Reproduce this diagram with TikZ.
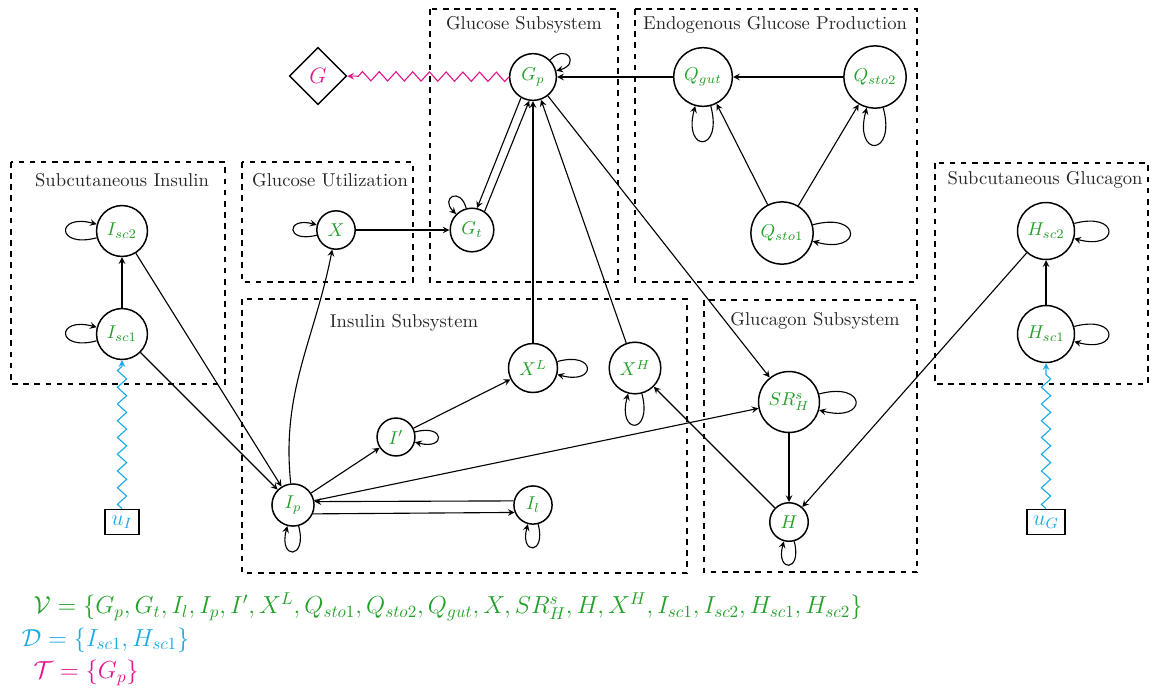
\documentclass[tikz,border=0pt]{standalone}
\usetikzlibrary{shapes.geometric,decorations.pathmorphing}
\definecolor{vargreen}{RGB}{34,160,40}
\definecolor{drvblue}{RGB}{25,170,230}
\definecolor{tgtpink}{RGB}{230,20,140}
\tikzset{
  var/.style={circle,draw,thick,text=vargreen},
  group/.style={draw,thick,dashed},
  title/.style={text=black!85},
  edge/.style={semithick,-stealth},
  every loop/.style={},
  zig/.style={semithick,-stealth,decorate,
    decoration={zigzag,segment length=9pt,amplitude=2.5pt,post length=3pt}},
  setline/.style={anchor=west,font=\Large},
}
\newcommand{\setshrink}[1]{\scalebox{0.92}{#1}}
\begin{document}
\begin{tikzpicture}[x=0.0189cm,y=-0.0189cm]
  \useasboundingbox (0,0) rectangle (1153,690);

  % Draw the dashed subsystem boxes
  \draw[group] (430,9) rectangle (618,282);
  \node[title] (tGlu) at (524,25) {Glucose Subsystem};
  \draw[group] (635,9) rectangle (917,282);
  \node[title] (tEgp) at (775,25) {Endogenous Glucose Production};
  \draw[group] (11,162) rectangle (225,384);
  \node[title] (tSci) at (122,180) {Subcutaneous Insulin};
  \draw[group] (242,162) rectangle (413,282);
  \node[title] (tUti) at (330,180) {Glucose Utilization};
  \draw[group] (242,299) rectangle (687,573);
  \node[title] (tIns) at (404,323) {Insulin Subsystem};
  \draw[group] (704,300) rectangle (917,572);
  \node[title] (tGgn) at (815,321) {Glucagon Subsystem};
  \draw[group] (935,163) rectangle (1148,384);
  \node[title] (tScg) at (1045,180) {Subcutaneous Glucagon};

  % Draw the state variables
  \node[var] (Gp) at (533,77) {$G_p$};
  \node[var] (Gt) at (472,230) {$G_t$};
  \node[var] (X) at (336,230) {$X$};
  \node[var] (Qgut) at (703,77) {$Q_{gut}$};
  \node[var] (Qsto2) at (875,77) {$Q_{sto2}$};
  \node[var] (Qsto1) at (782,233) {$Q_{sto1}$};
  \node[var] (Isc2) at (122,231) {$I_{sc2}$};
  \node[var] (Isc1) at (122,334) {$I_{sc1}$};
  \node[var] (Ip) at (293,505) {$I_p$};
  \node[var] (Ipr) at (396,437) {$I'$};
  \node[var] (XL) at (533,368) {$X^L$};
  \node[var] (XH) at (635,368) {$X^H$};
  \node[var] (Il) at (533,505) {$I_l$};
  \node[var] (SRH) at (789,402) {$SR_H^s$};
  \node[var] (H) at (789,522) {$H$};
  \node[var] (Hsc2) at (1046,231) {$H_{sc2}$};
  \node[var] (Hsc1) at (1046,334) {$H_{sc1}$};

  % Draw the inputs and the target
  \node[draw,thick,text=drvblue,font=\large] (uI) at (122,522) {$u_I$};
  \node[draw,thick,text=drvblue,font=\large] (uG) at (1046,522) {$u_G$};
  \node[diamond,draw,thick,text=tgtpink,font=\large] (G) at (318,76) {$G$};

  % Draw the connections
  \draw[edge] (Qgut) -- (Gp);
  \draw[edge] (Qsto2) -- (Qgut);
  \draw[edge] (Qsto1) -- (Qgut);
  \draw[edge] (Qsto1) -- (Qsto2);
  \draw[edge] (Gp.240) -- (Gt.77);
  \draw[edge] (Gt.56) -- (Gp.261);
  \draw[edge] (X) -- (Gt);
  \draw[edge] (XL) -- (Gp);
  \draw[edge] (XH) -- (Gp);
  \draw[edge] (Gp) -- (SRH);
  \draw[edge] (Ip) to[out=96,in=-101] (X);
  \draw[edge] (Isc2) -- (Ip);
  \draw[edge] (Isc1) -- (Ip);
  \draw[edge] (Isc1) -- (Isc2);
  \draw[edge] (Ip) -- (Ipr);
  \draw[edge] (Ipr) -- (XL);
  \draw[edge] (Ip) -- (SRH);
  \draw[edge] (Il.168) -- (Ip.9);
  \draw[edge] (Ip.-24) -- (Il.-158);
  \draw[edge] (H) -- (XH);
  \draw[edge] (SRH) -- (H);
  \draw[edge] (Hsc2) -- (H);
  \draw[edge] (Hsc1) -- (Hsc2);

  % Draw the self loops
  \draw[edge] (Gp) to[out=45,in=15,loop,looseness=5] (Gp);
  \draw[edge] (Gt) to[out=105,in=135,loop,looseness=5] (Gt);
  \draw[edge] (X) to[loop left] (X);
  \draw[edge] (Qgut) to[loop below] (Qgut);
  \draw[edge] (Qsto2) to[loop below] (Qsto2);
  \draw[edge] (Qsto1) to[loop right] (Qsto1);
  \draw[edge] (Isc2) to[loop left] (Isc2);
  \draw[edge] (Isc1) to[loop left] (Isc1);
  \draw[edge] (Ip) to[loop below] (Ip);
  \draw[edge] (Ipr) to[loop right] (Ipr);
  \draw[edge] (XL) to[loop right] (XL);
  \draw[edge] (XH) to[loop below] (XH);
  \draw[edge] (Il) to[loop below] (Il);
  \draw[edge] (SRH) to[loop right] (SRH);
  \draw[edge] (H) to[loop below] (H);
  \draw[edge] (Hsc2) to[loop right] (Hsc2);
  \draw[edge] (Hsc1) to[loop right] (Hsc1);

  % Draw the zigzag links
  \draw[zig,drvblue] (uI) -- (Isc1);
  \draw[zig,drvblue] (uG) -- (Hsc1);
  \draw[zig,tgtpink] (Gp) -- (G);

  % Sets
  \node[setline,text=vargreen] (Vset) at (27,607)
    {\setshrink{$\mathcal{V}=\{G_p,G_t,I_l,I_p,I',X^L,Q_{sto1},Q_{sto2},Q_{gut},X,SR_H^s,H,X^H,I_{sc1},I_{sc2},H_{sc1},H_{sc2}\}$}};
  \node[setline,text=drvblue] (Dset) at (15,640) {\setshrink{$\mathcal{D}=\{I_{sc1},H_{sc1}\}$}};
  \node[setline,text=tgtpink] (Tset) at (27,673) {\setshrink{$\mathcal{T}=\{G_p\}$}};
\end{tikzpicture}
\end{document}
